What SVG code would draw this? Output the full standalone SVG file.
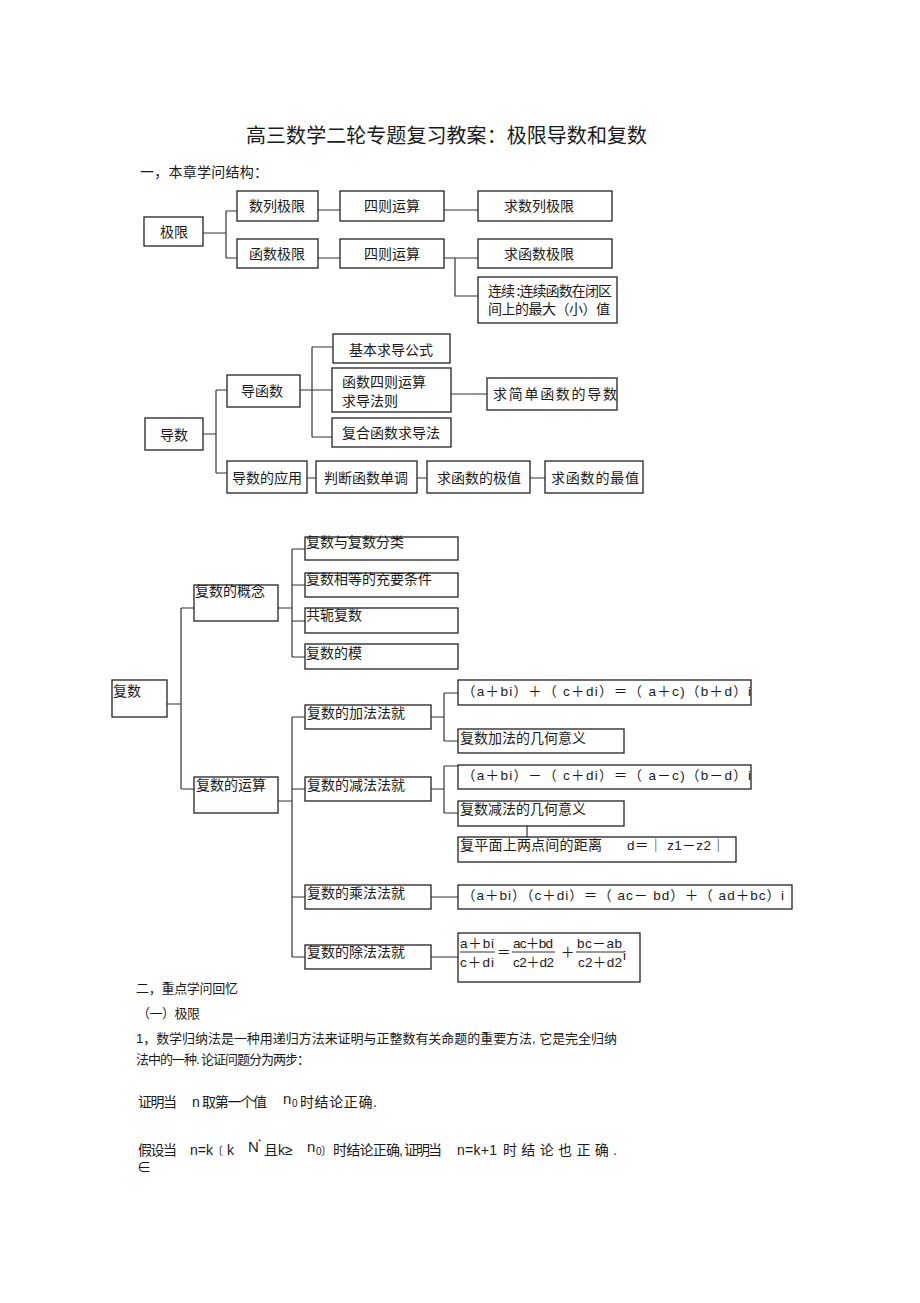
<svg xmlns="http://www.w3.org/2000/svg" width="920" height="1303" viewBox="0 0 920 1303">
<style>
text{font-family:"Liberation Sans","Noto Sans CJK SC",sans-serif;fill:#1a1a1a;font-size:14px}
.cj{font-family:"Noto Sans CJK SC",sans-serif}
.c{text-anchor:middle}
.bx{fill:#fff;stroke:#222;stroke-width:1.3}
.ln{fill:none;stroke:#333;stroke-width:1.2}
.f{font-size:13.5px}
</style>
<rect width="920" height="1303" fill="#fff"/>
<text x="246" y="143" class="cj" style="font-size:20px" textLength="401">高三数学二轮专题复习教案：极限导数和复数</text>
<text x="140" y="177" class="cj" textLength="128">一，本章学问结构：</text>

<g id="connectors">
<path class="ln" d="M203 233H226M226 211V258M226 211H237M226 258H237M318 210H340M444 210H478M318 258H340M444 258H478M455 258V296H478"/>
<path class="ln" d="M203 434H216M216 390V473M216 390H227M216 473H227M300 390H312M312 347V437M312 347H333M312 390H332M312 437H332M451 394H487M307 478H316M417 478H427M530 478H545"/>
<path class="ln" d="M167 704H181M181 608V789M181 608H194M181 789H194M278 608H292M292 549V657M292 549H305M292 585H305M292 621H305M292 657H305"/>
<path class="ln" d="M278 801H292M292 717V957M292 717H305M292 789H305M292 897H305M292 957H305M431 717H444M444 693V741M444 693H458M444 741H458M431 789H444M444 766V813M444 766H458M444 813H458M527 826V837M431 897H458M431 957H458"/>
</g>

<g id="n-jixian"><rect class="bx" x="144" y="217" width="59" height="29"/><text class="cj c" x="174" y="237">极限</text></g>
<g id="n-shulie"><rect class="bx" x="237" y="191" width="81" height="30"/><text class="cj c" x="277" y="211">数列极限</text></g>
<g id="n-sizeyun1"><rect class="bx" x="340" y="191" width="104" height="30"/><text class="cj c" x="392" y="211">四则运算</text></g>
<g id="n-qiushulie"><rect class="bx" x="478" y="191" width="134" height="30"/><text class="cj c" x="539" y="211">求数列极限</text></g>
<g id="n-hanshu"><rect class="bx" x="237" y="239" width="81" height="29"/><text class="cj c" x="277" y="259">函数极限</text></g>
<g id="n-sizeyun2"><rect class="bx" x="340" y="239" width="104" height="29"/><text class="cj c" x="392" y="259">四则运算</text></g>
<g id="n-qiuhanshu"><rect class="bx" x="478" y="239" width="134" height="29"/><text class="cj c" x="539" y="259">求函数极限</text></g>
<g id="n-lianxu"><rect class="bx" x="478" y="277" width="139" height="46"/><text class="cj" x="488" y="296" textLength="124">连续 :连续函数在闭区</text><text class="cj" x="488" y="314" textLength="122">间上的最大（小）值</text></g>

<g id="n-daoshu"><rect class="bx" x="145" y="418" width="58" height="32"/><text class="cj c" x="174" y="440">导数</text></g>
<g id="n-daohanshu"><rect class="bx" x="227" y="375" width="73" height="32"/><text class="cj c" x="262" y="396">导函数</text></g>
<g id="n-jiben"><rect class="bx" x="333" y="334" width="117" height="29"/><text class="cj c" x="391" y="355">基本求导公式</text></g>
<g id="n-sizefa"><rect class="bx" x="332" y="368" width="119" height="44"/><text class="cj" x="342" y="387">函数四则运算</text><text class="cj" x="342" y="406">求导法则</text></g>
<g id="n-fuhe"><rect class="bx" x="332" y="418" width="119" height="29"/><text class="cj" x="342" y="438" textLength="98">复合函数求导法</text></g>
<g id="n-qiujiandan"><rect class="bx" x="487" y="378" width="130" height="32"/><text class="cj" x="493" y="399" textLength="124">求简单函数的导数</text></g>
<g id="n-yingyong"><rect class="bx" x="227" y="461" width="80" height="32"/><text class="cj c" x="267" y="483">导数的应用</text></g>
<g id="n-dandiao"><rect class="bx" x="316" y="461" width="101" height="32"/><text class="cj c" x="366" y="483">判断函数单调</text></g>
<g id="n-jizhi"><rect class="bx" x="427" y="461" width="103" height="32"/><text class="cj c" x="479" y="483">求函数的极值</text></g>
<g id="n-zuizhi"><rect class="bx" x="545" y="461" width="98" height="32"/><text class="cj" x="551" y="483" textLength="88">求函数的最值</text></g>

<g id="n-fushu"><rect class="bx" x="112" y="680" width="55" height="37"/><text class="cj" x="113" y="696">复数</text></g>
<g id="n-gainian"><rect class="bx" x="194" y="585" width="84" height="36"/><text class="cj" x="195" y="596">复数的概念</text></g>
<g id="n-fenlei"><rect class="bx" x="305" y="537" width="153" height="23"/><text class="cj" x="306" y="547">复数与复数分类</text></g>
<g id="n-xiangdeng"><rect class="bx" x="305" y="573" width="153" height="24"/><text class="cj" x="306" y="584">复数相等的充要条件</text></g>
<g id="n-gonge"><rect class="bx" x="305" y="608" width="153" height="25"/><text class="cj" x="306" y="620">共轭复数</text></g>
<g id="n-mo"><rect class="bx" x="305" y="644" width="153" height="25"/><text class="cj" x="306" y="658">复数的模</text></g>
<g id="n-yunsuan"><rect class="bx" x="194" y="777" width="84" height="36"/><text class="cj" x="196" y="790">复数的运算</text></g>
<g id="n-jiafa"><rect class="bx" x="305" y="705" width="126" height="24"/><text class="cj" x="307" y="718">复数的加法法就</text></g>
<g id="n-jianfa"><rect class="bx" x="305" y="777" width="126" height="24"/><text class="cj" x="307" y="790">复数的减法法就</text></g>
<g id="n-chengfa"><rect class="bx" x="305" y="885" width="126" height="24"/><text class="cj" x="307" y="898">复数的乘法法就</text></g>
<g id="n-chufa"><rect class="bx" x="305" y="945" width="126" height="24"/><text class="cj" x="307" y="957">复数的除法法就</text></g>
<g id="n-jiagongshi"><rect class="bx" x="458" y="680" width="293" height="25"/><text class="f" x="462" y="696" textLength="289">（a＋bi）＋（ c＋di）＝（ a＋c)（b＋d）i</text></g>
<g id="n-jiayiyi"><rect class="bx" x="458" y="729" width="166" height="24"/><text class="cj" x="460" y="743">复数加法的几何意义</text></g>
<g id="n-jiangongshi"><rect class="bx" x="458" y="765" width="293" height="24"/><text class="f" x="462" y="780" textLength="289">（a＋bi）－（ c＋di）＝（ a－c)（b－d）i</text></g>
<g id="n-jianyiyi"><rect class="bx" x="458" y="801" width="166" height="25"/><text class="cj" x="460" y="814">复数减法的几何意义</text></g>
<g id="n-juli"><rect class="bx" x="458" y="837" width="278" height="25"/><text class="cj" x="460" y="850" textLength="142">复平面上两点间的距离</text><text class="f" x="627" y="850" textLength="98">d＝｜ z1－z2｜</text></g>
<g id="n-chenggongshi"><rect class="bx" x="458" y="885" width="334" height="24"/><text class="f" x="462" y="900" textLength="322">（a＋bi）（c＋di）＝（ ac－ bd）＋（ ad＋bc）i</text></g>
<g id="n-chugongshi"><rect class="bx" x="458" y="933" width="182" height="49"/>
<text class="f" x="460" y="948" textLength="34">a＋bi</text>
<text class="f" x="460" y="967" textLength="34">c＋di</text>
<path class="ln" d="M460 952H495M512 952H555M576 952H624"/>
<text class="f" x="497" y="957" textLength="11">＝</text>
<text class="f" x="513" y="948" textLength="40">ac＋bd</text>
<text class="f" x="513" y="967" textLength="41">c2＋d2</text>
<text class="f" x="561" y="957" textLength="12">＋</text>
<text class="f" x="577" y="948" textLength="45">bc－ab</text>
<text class="f" x="578" y="967" textLength="44">c2＋d2</text>
<text class="f" x="623" y="960">i</text>
</g>

<text x="136" y="993" class="cj" style="font-size:13px" textLength="102">二，重点学问回忆</text>
<text x="137" y="1018" class="cj" style="font-size:13px" textLength="63">（一）极限</text>
<text x="136" y="1043" style="font-size:13px" textLength="481">1，数学归纳法是一种用递归方法来证明与正整数有关命题的重要方法, 它是完全归纳</text>
<text x="136" y="1064" style="font-size:13px" textLength="174">法中的一种. 论证问题分为两步：</text>
<g style="font-size:13px">
<text x="138" y="1107" textLength="39">证明当</text>
<text x="192" y="1107">n</text>
<text x="202" y="1107" textLength="65">取第一个值</text>
<text x="283" y="1104" style="font-size:15px">n</text><text x="292" y="1107" style="font-size:10px">0</text>
<text x="300" y="1107" textLength="77">时结论正确.</text>
<text x="138" y="1155" textLength="39">假设当</text>
<text x="190" y="1155">n=k</text>
<text x="212" y="1155" style="font-size:11px">〔</text>
<text x="227" y="1155">k</text>
<text x="248" y="1152" style="font-size:15px">N</text>
<text x="258" y="1144" style="font-size:8px">*</text>
<text x="264" y="1155">且</text>
<text x="278" y="1155">k≥</text>
<text x="307" y="1152" style="font-size:15px">n</text><text x="316" y="1155" style="font-size:10px">0</text>
<text x="321" y="1155" style="font-size:11px">〕</text>
<text x="333" y="1155" textLength="70">时结论正确,</text>
<text x="404" y="1155" textLength="38">证明当</text>
<text x="457" y="1155" textLength="40">n=k+1</text>
<text x="503" y="1155" textLength="114">时结论也正确.</text>
<text x="137" y="1172">∈</text>
</g>
</svg>
